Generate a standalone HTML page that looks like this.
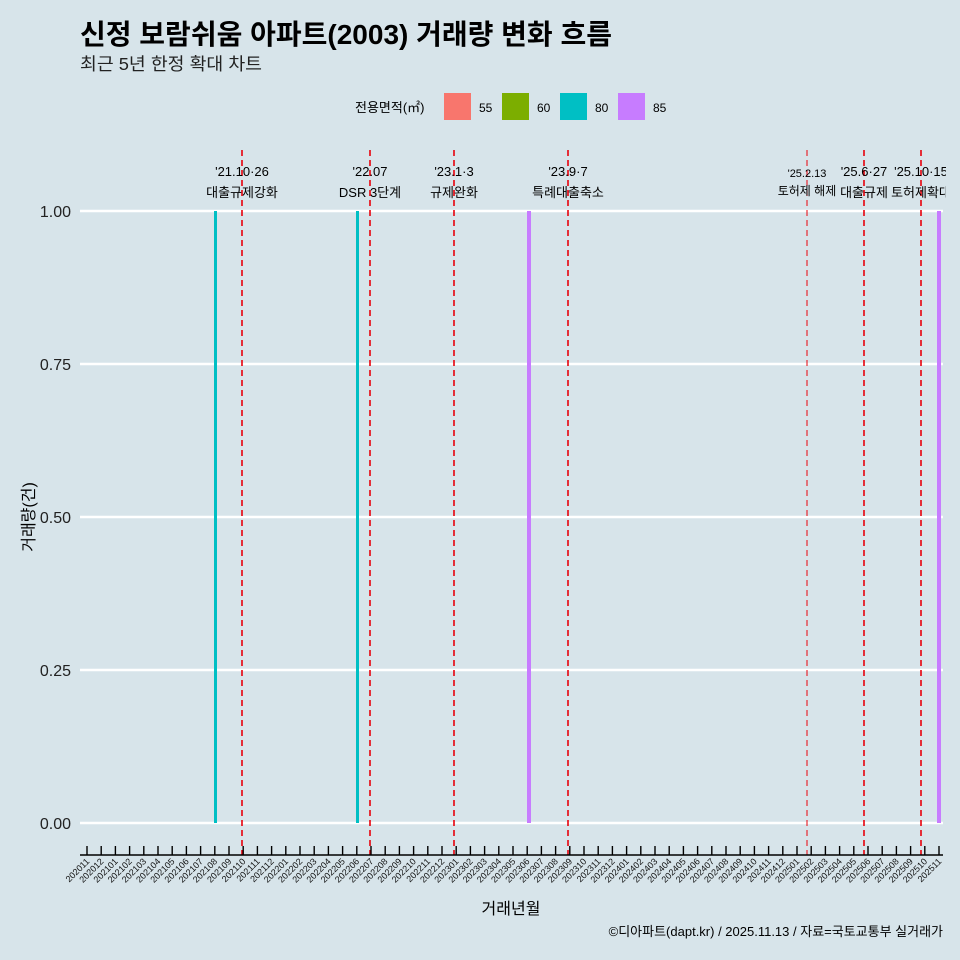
<!DOCTYPE html>
<html><head><meta charset="utf-8"><style>
body{margin:0;background:#d7e4ea;}
svg{display:block;font-family:"Liberation Sans","Noto Sans CJK KR",sans-serif;}
</style></head><body>
<svg width="960" height="960" viewBox="0 0 960 960">
<rect width="960" height="960" fill="#d7e4ea"/>
<text x="80" y="44" font-size="28" font-weight="bold" fill="#000" textLength="532" lengthAdjust="spacingAndGlyphs">신정 보람쉬움 아파트(2003) 거래량 변화 흐름</text>
<text x="80" y="70" font-size="17.5" fill="#222" textLength="182" lengthAdjust="spacingAndGlyphs">최근 5년 한정 확대 차트</text>
<text x="355" y="112" font-size="13" fill="#000">전용면적(㎡)</text>
<rect x="444" y="93" width="27" height="27" fill="#F8766D"/><text x="479" y="112" font-size="12">55</text>
<rect x="502" y="93" width="27" height="27" fill="#7CAE00"/><text x="537" y="112" font-size="12">60</text>
<rect x="560" y="93" width="27" height="27" fill="#00BFC4"/><text x="595" y="112" font-size="12">80</text>
<rect x="618" y="93" width="27" height="27" fill="#C77CFF"/><text x="653" y="112" font-size="12">85</text>
<g stroke="#fff" stroke-width="2.4">
<line x1="80" x2="943" y1="211" y2="211"/><line x1="80" x2="943" y1="364" y2="364"/>
<line x1="80" x2="943" y1="517" y2="517"/><line x1="80" x2="943" y1="670" y2="670"/>
<line x1="80" x2="943" y1="823" y2="823"/></g>
<g font-size="16" fill="#222" text-anchor="end">
<text x="71" y="217">1.00</text><text x="71" y="370">0.75</text><text x="71" y="523">0.50</text><text x="71" y="676">0.25</text><text x="71" y="829">0.00</text></g>
<text transform="translate(34,517) rotate(-90)" font-size="16" text-anchor="middle">거래량(건)</text>
<rect x="214" y="211" width="3" height="612" fill="#00BFC4"/>
<rect x="356" y="211" width="3" height="612" fill="#00BFC4"/>
<rect x="527" y="211" width="4" height="612" fill="#C77CFF"/>
<rect x="937" y="211" width="4" height="612" fill="#C77CFF"/>
<g stroke="#e8000b" stroke-width="1.6" stroke-dasharray="6,4">
<line x1="242" x2="242" y1="150" y2="855"/><line x1="370" x2="370" y1="150" y2="855"/>
<line x1="454" x2="454" y1="150" y2="855"/><line x1="568" x2="568" y1="150" y2="855"/>
<line x1="807" x2="807" y1="150" y2="855" stroke-width="1"/><line x1="864" x2="864" y1="150" y2="855"/>
<line x1="921" x2="921" y1="150" y2="855"/></g>
<defs><clipPath id="c"><rect x="0" y="0" width="946" height="960"/></clipPath></defs>
<g font-size="13" fill="#000" text-anchor="middle" clip-path="url(#c)">
<text x="242" y="176">'21.10·26</text><text x="242" y="197">대출규제강화</text>
<text x="370" y="176">'22.07</text><text x="370" y="197">DSR 3단계</text>
<text x="454" y="176">'23.1·3</text><text x="454" y="197">규제완화</text>
<text x="568" y="176">'23.9·7</text><text x="568" y="197">특례대출축소</text>
<text x="807" y="177" font-size="11">'25.2.13</text><text x="807" y="195" font-size="12">토허제 해제</text>
<text x="864" y="176">'25.6·27</text><text x="864" y="197">대출규제</text>
<text x="921" y="176">'25.10·15</text><text x="921" y="197">토허제확대</text>
</g>
<line x1="80" x2="943" y1="855" y2="855" stroke="#000" stroke-width="1.4"/>
<g id="ticks" stroke="#000" stroke-width="1.4"></g>
<g id="lbls" font-size="9" fill="#111" text-anchor="end"></g>
<text x="511" y="914" font-size="16" text-anchor="middle">거래년월</text>
<text x="943" y="936" font-size="13" text-anchor="end">©디아파트(dapt.kr) / 2025.11.13 / 자료=국토교통부 실거래가</text>
<script>
var t=document.getElementById('ticks'),l=document.getElementById('lbls'),ns='http://www.w3.org/2000/svg';
for(var i=0;i<61;i++){var x=87+i*14.2;var ln=document.createElementNS(ns,'line');ln.setAttribute('x1',x);ln.setAttribute('x2',x);ln.setAttribute('y1',846);ln.setAttribute('y2',855);t.appendChild(ln);
var m=10+i,y=2020+Math.floor(m/12),mo=m%12+1;var tx=document.createElementNS(ns,'text');tx.setAttribute('transform','translate('+(x+3)+',862) rotate(-45)');tx.textContent=y+(mo<10?'0':'')+mo;l.appendChild(tx);}
</script>
</svg></body></html>
